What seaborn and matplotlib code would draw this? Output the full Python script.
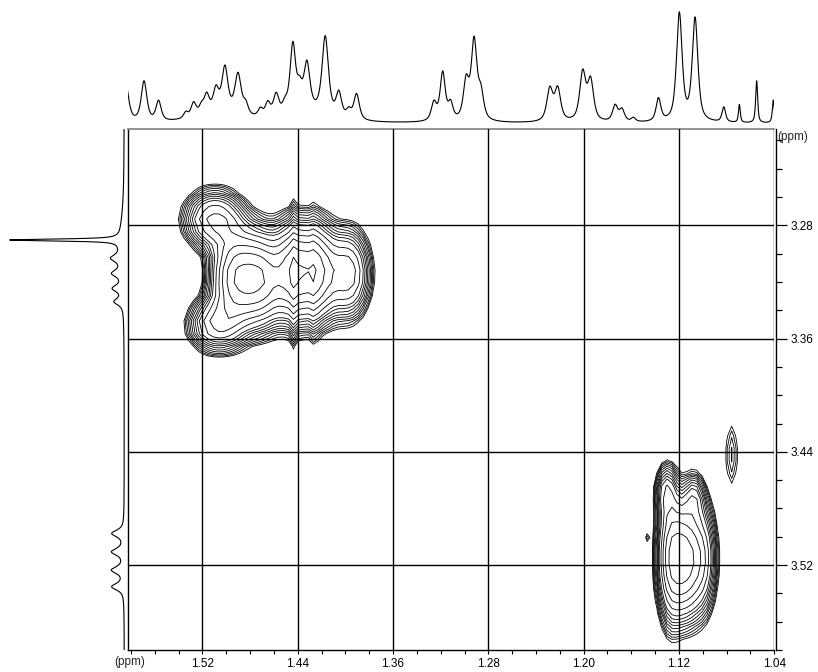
import numpy as np
import matplotlib
matplotlib.use("Agg")
import matplotlib.pyplot as plt
from matplotlib.ticker import MultipleLocator
import seaborn as sns

# ---------------- data ----------------
# F2 projection (top): peak positions (ppm), heights (px units), half widths (ppm)
top_ppm = [1.5845, 1.5690, 1.5568, 1.5340, 1.5274, 1.5208, 1.5164, 1.5086, 1.5011,
           1.4901, 1.4836, 1.4713, 1.4651, 1.4581, 1.4507, 1.4441, 1.4384, 1.4323,
           1.4169, 1.4055, 1.3972, 1.3906, 1.3257, 1.3183, 1.3117, 1.2986, 1.2920,
           1.2863, 1.2284, 1.2218, 1.2008, 1.1942, 1.1736, 1.1679, 1.1583, 1.1372,
           1.1197, 1.1065, 1.0824, 1.0693, 1.0548, 1.0408,
           1.505, 1.430]
top_height = [40, 40, 20, 6, 14, 8, 18, 22, 44, 40, 10, 8, 14, 22, 10, 68, 20, 46,
              78, 24, 8, 26, 18, 48, 16, 38, 78, 26, 32, 32, 48, 40, 16, 12, 4, 23,
              108, 103, 15, 18, 42, 23,
              9, 9]
top_hw = [0.003, 0.0028, 0.0026, 0.0022, 0.0026, 0.0024, 0.0026, 0.0028, 0.0030,
          0.0032, 0.0024, 0.0024, 0.0026, 0.0028, 0.0026, 0.0028, 0.0026, 0.0030,
          0.0032, 0.0028, 0.0024, 0.0028, 0.0026, 0.0026, 0.0024, 0.0028, 0.0028,
          0.0028, 0.0030, 0.0030, 0.0030, 0.0030, 0.0026, 0.0026, 0.0022, 0.0024,
          0.0028, 0.0028, 0.0018, 0.0009, 0.0010, 0.0010,
          0.022, 0.018]

# F1 projection (left): peak positions (ppm), heights (px units), half widths (ppm)
left_ppm = [3.2903, 3.2910, 3.3032, 3.3139, 3.3245, 3.3339,
            3.4976, 3.5106, 3.5235, 3.5353]
left_height = [110, 4, 10, 10, 10, 9, 12, 12, 12, 12]
left_hw = [0.0008, 0.02, 0.0028, 0.0028, 0.0028, 0.0028,
           0.0028, 0.0028, 0.0028, 0.0028]

# 2D cross peaks: F2 position, F1 position, amplitude, widths (ppm)
peak_x = [1.492, 1.4705, 1.4436, 1.424, 1.398, 1.510, 1.508,
          1.4436, 1.4254,
          1.1165, 1.131, 1.1075, 1.128, 1.099,
          1.0758, 1.1468]
peak_y = [3.317, 3.318, 3.313, 3.313, 3.314, 3.276, 3.350,
          3.318, 3.318,
          3.516, 3.468, 3.472, 3.512, 3.515,
          3.442, 3.5005]
peak_amp = [0.80, 0.80, 0.78, 0.72, 0.50, 0.45, 0.42,
            0.11, 0.10,
            0.85, 0.24, 0.21, 0.28, 0.25,
            0.10, 0.068]
peak_sx = [0.012, 0.012, 0.010, 0.010, 0.011, 0.015, 0.014,
           0.0018, 0.0018,
           0.0105, 0.0055, 0.0055, 0.006, 0.007,
           0.0048, 0.0015]
peak_sy = [0.019, 0.019, 0.020, 0.020, 0.018, 0.012, 0.011,
           0.032, 0.030,
           0.024, 0.011, 0.010, 0.030, 0.024,
           0.020, 0.003]

x_ticks = [1.52, 1.44, 1.36, 1.28, 1.20, 1.12, 1.04]
x_tick_labels = ["1.52", "1.44", "1.36", "1.28", "1.20", "1.12", "1.04"]
y_ticks = [3.28, 3.36, 3.44, 3.52]
y_tick_labels = ["3.28", "3.36", "3.44", "3.52"]
unit_label = "(ppm)"

# ---------------- style ----------------
sns.set_theme(style="white")
plt.rcParams["font.family"] = ["Liberation Sans", "DejaVu Sans"]

W, H = 818, 672
PT = 0.72  # points per pixel at 100 dpi
fig = plt.figure(figsize=(W / 100, H / 100), dpi=100)

X_LEFT, X_RIGHT = 1.5822, 1.04
Y_TOP, Y_BOT = 3.2121, 3.580
px_l, px_r, px_t, px_b = 128.3, 774.3, 129.3, 650.0

ax = fig.add_axes([px_l / W, 1 - px_b / H, (px_r - px_l) / W, (px_b - px_t) / H])
ax_top = fig.add_axes([px_l / W, 1 - 127 / H, (px_r - px_l) / W, 127 / H])
ax_left = fig.add_axes([0, 1 - px_b / H, px_l / W, (px_b - px_t) / H])


def spectrum(axis, centers, heights, hws, eta=0.7):
    s = np.zeros_like(axis)
    for c, h, w in zip(centers, heights, hws):
        d = (axis - c) / w
        s += h * (eta / (1 + d * d) + (1 - eta) * np.exp(-np.log(2) * d * d))
    return s


# top projection
f2 = np.linspace(1.62, 1.02, 4000)
top_int = spectrum(f2, top_ppm, top_height, top_hw)
sns.lineplot(x=f2, y=top_int, ax=ax_top, color="black", linewidth=0.8,
             estimator=None, sort=False)
ax_top.set_xlim(X_LEFT, X_RIGHT)
ax_top.set_ylim(-3.5, 123.5)
ax_top.axis("off")

# left projection
f1 = np.linspace(Y_TOP, Y_BOT, 4000)
left_int = spectrum(f1, left_ppm, left_height, left_hw, eta=0.8)
sns.lineplot(x=left_int, y=f1, ax=ax_left, color="black", linewidth=0.8,
             estimator=None, sort=False, orient="y")
ax_left.set_xlim(124.3, -4)
ax_left.set_ylim(Y_BOT, Y_TOP)
ax_left.axis("off")

# 2D contour map on a coarse digital grid
gx = 1.4436 + 0.00418 * np.arange(-102, 40)
gy = 3.3115 + 0.009 * np.arange(-12, 31)
GX, GY = np.meshgrid(gx, gy)
Z = np.zeros_like(GX)
for x0, y0, a, sx, sy in zip(peak_x, peak_y, peak_amp, peak_sx, peak_sy):
    Z += a * np.exp(-0.5 * (((GX - x0) / sx) ** 2 + ((GY - y0) / sy) ** 2))
L0 = 0.06
levels = np.concatenate([L0 * 1.17 ** np.arange(10),
                         L0 * 1.17 ** 9 * 1.3 ** np.arange(1, 7)])
ax.contour(GX, GY, Z, levels=levels, colors="black", linewidths=0.6)

ax.set_xlim(X_LEFT, X_RIGHT)
ax.set_ylim(Y_BOT, Y_TOP)
ax.set_facecolor("white")
ax.set_xticks(x_ticks)
ax.set_xticklabels(x_tick_labels)
ax.set_yticks(y_ticks)
ax.set_yticklabels(y_tick_labels)
ax.xaxis.set_minor_locator(MultipleLocator(0.02))
ax.yaxis.set_minor_locator(MultipleLocator(0.02))
ax.grid(True, which="major", color="black", linewidth=1.0)
ax.set_axisbelow(False)
ax.tick_params(axis="x", which="both", bottom=True, top=False, direction="out",
               length=4 * PT, width=0.8, pad=3.6 * PT, labelsize=8.5, colors="black")
ax.tick_params(axis="y", which="both", left=False, right=True, labelleft=False,
               labelright=True, direction="out", width=0.9, labelsize=8.5,
               colors="black")
ax.tick_params(axis="y", which="major", length=11 * PT, pad=3 * PT)
ax.tick_params(axis="y", which="minor", length=6 * PT)
for side in ["left", "right", "bottom"]:
    ax.spines[side].set_color("black")
    ax.spines[side].set_linewidth(1.0)
ax.spines["top"].set_color("#8a8a8a")
ax.spines["top"].set_linewidth(1.3)
ax.spines["right"].set_position(("outward", 1.5))
ax.set_xlabel("")
ax.set_ylabel("")

fig.text(130 / W, 1 - 662 / H, unit_label, ha="center", va="center", fontsize=8.5)
fig.text(793 / W, 1 - 137 / H, unit_label, ha="center", va="center", fontsize=8.5)

fig.savefig("out.png", dpi=100, facecolor="white")
